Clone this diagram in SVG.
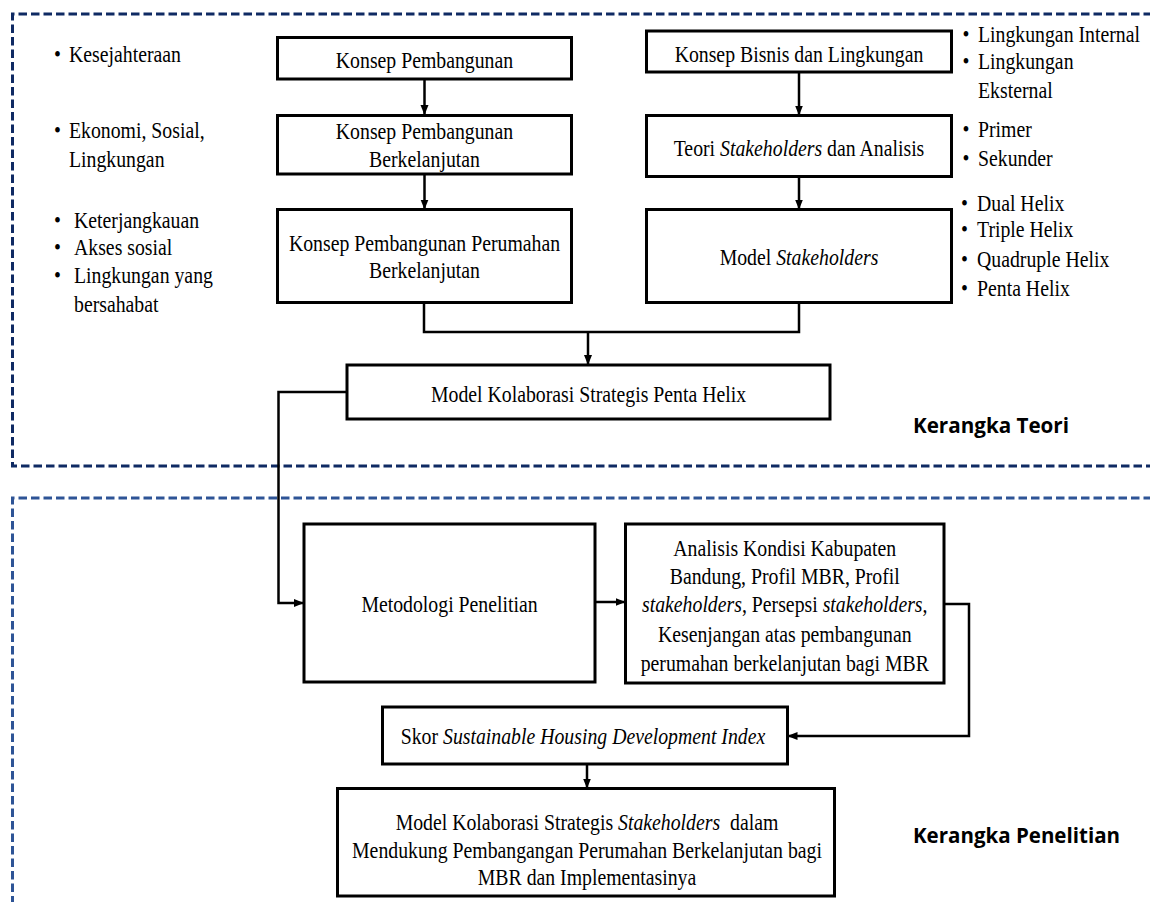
<svg xmlns="http://www.w3.org/2000/svg" width="1150" height="902" viewBox="0 0 1150 902">
<defs>
<marker id="arr" markerUnits="userSpaceOnUse" markerWidth="10" markerHeight="10" viewBox="0 0 10 10" refX="10" refY="5" orient="auto">
<path d="M0,1 L10,5 L0,9 Z" fill="#000"/>
</marker>
<style>
.box{fill:#fff;stroke:#000;stroke-width:3}
.t{font-family:"Liberation Serif","Times New Roman",serif;font-size:23px;fill:#000}
.c{text-anchor:middle}
.i{font-style:italic}
.conn{fill:none;stroke:#000;stroke-width:2.5}
.frame1{fill:none;stroke:#0f2a63;stroke-width:3;stroke-dasharray:8.5 4}
.frame2{fill:none;stroke:#2e5496;stroke-width:3;stroke-dasharray:8.5 4}
.lbl{font-family:"Open Sans","Noto Sans","Liberation Sans",sans-serif;font-weight:bold;font-size:22px;fill:#000}
</style>
</defs>
<rect width="1150" height="902" fill="#fff"/>

<g id="frames">
<path class="frame1" d="M1152,14 H12.5 V466 H1152"/>
<path class="frame2" d="M1152,498 H12.5 V904"/>
</g>

<g id="left-bullets">
<text class="t" transform="translate(54,62.3) scale(0.86,1)">•</text>
<text class="t" transform="translate(69,62.3) scale(0.86,1)">Kesejahteraan</text>
<text class="t" transform="translate(54,137.7) scale(0.86,1)">•</text>
<text class="t" transform="translate(69,137.7) scale(0.86,1)">Ekonomi, Sosial,</text>
<text class="t" transform="translate(69,166.7) scale(0.86,1)">Lingkungan</text>
<text class="t" transform="translate(54,227.7) scale(0.86,1)">•</text>
<text class="t" transform="translate(74,227.7) scale(0.86,1)">Keterjangkauan</text>
<text class="t" transform="translate(54,255) scale(0.86,1)">•</text>
<text class="t" transform="translate(74,255) scale(0.86,1)">Akses sosial</text>
<text class="t" transform="translate(54,282.7) scale(0.86,1)">•</text>
<text class="t" transform="translate(74,282.7) scale(0.86,1)">Lingkungan yang</text>
<text class="t" transform="translate(74,311.7) scale(0.86,1)">bersahabat</text>
</g>

<g id="right-bullets">
<text class="t" transform="translate(962.5,41.7) scale(0.86,1)">•</text>
<text class="t" transform="translate(978,41.7) scale(0.86,1)">Lingkungan Internal</text>
<text class="t" transform="translate(962.5,69) scale(0.86,1)">•</text>
<text class="t" transform="translate(978,69) scale(0.86,1)">Lingkungan</text>
<text class="t" transform="translate(978,98.3) scale(0.86,1)">Eksternal</text>
<text class="t" transform="translate(962.5,137.3) scale(0.86,1)">•</text>
<text class="t" transform="translate(978,137.3) scale(0.86,1)">Primer</text>
<text class="t" transform="translate(962.5,165.7) scale(0.86,1)">•</text>
<text class="t" transform="translate(978,165.7) scale(0.86,1)">Sekunder</text>
<text class="t" transform="translate(961,210.7) scale(0.86,1)">•</text>
<text class="t" transform="translate(977,210.7) scale(0.86,1)">Dual Helix</text>
<text class="t" transform="translate(961,237.3) scale(0.86,1)">•</text>
<text class="t" transform="translate(977,237.3) scale(0.86,1)">Triple Helix</text>
<text class="t" transform="translate(961,266.7) scale(0.86,1)">•</text>
<text class="t" transform="translate(977,266.7) scale(0.86,1)">Quadruple Helix</text>
<text class="t" transform="translate(961,296) scale(0.86,1)">•</text>
<text class="t" transform="translate(977,296) scale(0.86,1)">Penta Helix</text>
</g>

<g id="connectors">
<path class="conn" d="M424.5,79 V115" marker-end="url(#arr)"/>
<path class="conn" d="M424.5,174 V209.5" marker-end="url(#arr)"/>
<path class="conn" d="M799,72 V115.5" marker-end="url(#arr)"/>
<path class="conn" d="M799,176.5 V209.5" marker-end="url(#arr)"/>
<path class="conn" d="M424,302.5 V332 H799 V302.5"/>
<path class="conn" d="M588,332 V365" marker-end="url(#arr)"/>
<path class="conn" d="M347,392 H278.5 V603 H304" marker-end="url(#arr)"/>
<path class="conn" d="M595,602 H625.5" marker-end="url(#arr)"/>
<path class="conn" d="M944,604 H969 V736 H787.5" marker-end="url(#arr)"/>
<path class="conn" d="M587,764 V788.5" marker-end="url(#arr)"/>
</g>

<g id="n-konsep-pembangunan">
<rect class="box" x="277.5" y="37.5" width="294" height="41.5"/>
<text class="t c" transform="translate(424.5,68.3) scale(0.86,1)">Konsep Pembangunan</text>
</g>
<g id="n-konsep-berkelanjutan">
<rect class="box" x="277.5" y="115.5" width="294" height="58.5"/>
<text class="t c" transform="translate(424.5,139.3) scale(0.86,1)">Konsep Pembangunan</text>
<text class="t c" transform="translate(424.5,166.7) scale(0.86,1)">Berkelanjutan</text>
</g>
<g id="n-konsep-perumahan">
<rect class="box" x="277.5" y="209.5" width="294" height="93"/>
<text class="t c" transform="translate(424.5,250.7) scale(0.86,1)">Konsep Pembangunan Perumahan</text>
<text class="t c" transform="translate(424.5,277.7) scale(0.86,1)">Berkelanjutan</text>
</g>
<g id="n-konsep-bisnis">
<rect class="box" x="646.5" y="31" width="305" height="41"/>
<text class="t c" transform="translate(799,61.7) scale(0.86,1)">Konsep Bisnis dan Lingkungan</text>
</g>
<g id="n-teori-stakeholders">
<rect class="box" x="646.5" y="115.5" width="305" height="61"/>
<text class="t c" transform="translate(799,155.7) scale(0.86,1)">Teori <tspan class="i">Stakeholders</tspan> dan Analisis</text>
</g>
<g id="n-model-stakeholders">
<rect class="box" x="646.5" y="209.5" width="305" height="93"/>
<text class="t c" transform="translate(799,265) scale(0.86,1)">Model <tspan class="i">Stakeholders</tspan></text>
</g>
<g id="n-model-penta-helix">
<rect class="box" x="347" y="365" width="483" height="54"/>
<text class="t c" transform="translate(588.5,401.7) scale(0.86,1)">Model Kolaborasi Strategis Penta Helix</text>
</g>
<g id="n-metodologi">
<rect class="box" x="304" y="524" width="291" height="158"/>
<text class="t c" transform="translate(449.5,611.7) scale(0.86,1)">Metodologi Penelitian</text>
</g>
<g id="n-analisis">
<rect class="box" x="625.5" y="524" width="318.5" height="159"/>
<text class="t c" transform="translate(784.75,555.8) scale(0.86,1)">Analisis Kondisi Kabupaten</text>
<text class="t c" transform="translate(784.75,584) scale(0.86,1)">Bandung, Profil MBR, Profil</text>
<text class="t c" transform="translate(784.75,612.3) scale(0.86,1)"><tspan class="i">stakeholders</tspan>, Persepsi <tspan class="i">stakeholders</tspan>,</text>
<text class="t c" transform="translate(784.75,641.5) scale(0.86,1)">Kesenjangan atas pembangunan</text>
<text class="t c" transform="translate(784.75,670.5) scale(0.86,1)">perumahan berkelanjutan bagi MBR</text>
</g>
<g id="n-skor">
<rect class="box" x="382.5" y="707" width="405" height="57"/>
<text class="t c" transform="translate(583,744) scale(0.86,1)">Skor <tspan class="i">Sustainable Housing Development Index</tspan></text>
</g>
<g id="n-model-final">
<rect class="box" x="337.5" y="788.5" width="497" height="107.5"/>
<text class="t c" transform="translate(587,830) scale(0.86,1)">Model Kolaborasi Strategis <tspan class="i">Stakeholders</tspan>&#160; dalam</text>
<text class="t c" transform="translate(587,857.5) scale(0.86,1)">Mendukung Pembangangan Perumahan Berkelanjutan bagi</text>
<text class="t c" transform="translate(587,885) scale(0.86,1)">MBR dan Implementasinya</text>
</g>

<g id="labels">
<text class="lbl" x="913" y="433" textLength="156" lengthAdjust="spacingAndGlyphs">Kerangka Teori</text>
<text class="lbl" x="913" y="843" textLength="207" lengthAdjust="spacingAndGlyphs">Kerangka Penelitian</text>
</g>
</svg>
